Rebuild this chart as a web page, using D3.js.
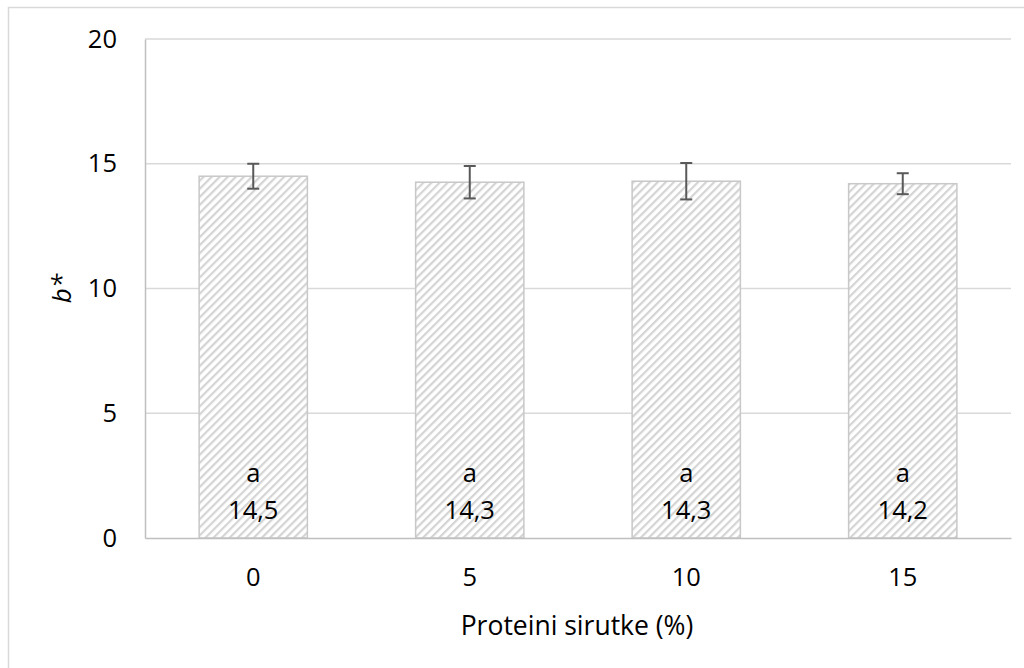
<!DOCTYPE html>
<html>
<head>
<meta charset="utf-8">
<script src="https://cdn.jsdelivr.net/npm/d3@7"></script>
<style>
  body { margin: 0; background: #fff; }
  svg { display: block; font-family: "Open Sans", "Noto Sans", sans-serif; }
</style>
</head>
<body>
<svg id="drawing_region"></svg>
<script>
// data
const categories = ["0", "5", "10", "15"];
const values = [14.5, 14.26, 14.3, 14.2];
const errors = [0.5, 0.65, 0.73, 0.42];
const letters = ["a", "a", "a", "a"];
const valueLabels = ["14,5", "14,3", "14,3", "14,2"];
const yTicks = [0, 5, 10, 15, 20];

const width = 1024, height = 668;
const margin = {top: 39, right: 13, bottom: 130, left: 145};

const svg = d3.select("#drawing_region")
    .attr("width", width)
    .attr("height", height);

// chart border (only left/top visible in the original)
svg.append("rect")
    .attr("x", 8.5).attr("y", 7.5)
    .attr("width", 1040).attr("height", 700)
    .attr("fill", "none")
    .attr("stroke", "#d9d9d9")
    .attr("stroke-width", 1.5);

// hatch pattern
const defs = svg.append("defs");
const pat = defs.append("pattern")
    .attr("id", "hatch")
    .attr("patternUnits", "userSpaceOnUse")
    .attr("width", 5.7).attr("height", 5.7)
    .attr("patternTransform", "rotate(45)");
pat.append("rect").attr("width", 5.7).attr("height", 5.7).attr("fill", "#fff");
pat.append("rect").attr("x", 0).attr("width", 2.2).attr("height", 5.7).attr("fill", "#d4d4d4");

const x = d3.scaleBand()
    .domain(categories)
    .range([margin.left, width - margin.right])
    .paddingInner(0.5)
    .paddingOuter(0.25);

const y = d3.scaleLinear()
    .domain([0, 20])
    .range([height - margin.bottom, margin.top]);

// gridlines
svg.append("g")
    .selectAll("line")
    .data(yTicks.filter(d => d > 0))
    .enter()
    .append("line")
    .attr("x1", margin.left).attr("x2", width - margin.right)
    .attr("y1", d => y(d)).attr("y2", d => y(d))
    .attr("stroke", "#d9d9d9")
    .attr("stroke-width", 1.5);

// y axis
const yAxis = svg.append("g")
    .attr("transform", `translate(${margin.left},0)`)
    .call(d3.axisLeft(y).tickValues(yTicks).tickSize(0).tickPadding(28));
yAxis.select(".domain").attr("stroke", "#bfbfbf").attr("stroke-width", 1.5);
yAxis.selectAll("text").attr("font-size", 25.5).attr("fill", "#000")
    .attr("font-family", "Open Sans, sans-serif");

// bars
svg.append("g")
    .selectAll("rect")
    .data(values)
    .enter()
    .append("rect")
    .attr("x", (d, i) => x(categories[i]))
    .attr("y", d => y(d))
    .attr("width", x.bandwidth())
    .attr("height", d => y(0) - y(d))
    .attr("fill", "url(#hatch)")
    .attr("stroke", "#c8c8c8")
    .attr("stroke-width", 1.5);

// x axis
const xAxis = svg.append("g")
    .attr("transform", `translate(0,${y(0)})`)
    .call(d3.axisBottom(x).tickSize(0).tickPadding(30));
xAxis.select(".domain").attr("stroke", "#bfbfbf").attr("stroke-width", 1.5);
xAxis.selectAll("text").attr("font-size", 25.5).attr("fill", "#000")
    .attr("font-family", "Open Sans, sans-serif");

// error bars
const err = svg.append("g")
    .selectAll("g")
    .data(values)
    .enter()
    .append("g")
    .attr("stroke", "#595959")
    .attr("stroke-width", 2);
const cx = i => x(categories[i]) + x.bandwidth() / 2;
err.append("line")
    .attr("x1", (d, i) => cx(i)).attr("x2", (d, i) => cx(i))
    .attr("y1", (d, i) => y(d + errors[i])).attr("y2", (d, i) => y(d - errors[i]));
err.append("line")
    .attr("x1", (d, i) => cx(i) - 6).attr("x2", (d, i) => cx(i) + 6)
    .attr("y1", (d, i) => y(d + errors[i])).attr("y2", (d, i) => y(d + errors[i]));
err.append("line")
    .attr("x1", (d, i) => cx(i) - 6).attr("x2", (d, i) => cx(i) + 6)
    .attr("y1", (d, i) => y(d - errors[i])).attr("y2", (d, i) => y(d - errors[i]));

// labels inside bars
const lab = svg.append("g")
    .attr("text-anchor", "middle")
    .attr("font-size", 25.5)
    .attr("fill", "#000");
lab.selectAll(".letter")
    .data(letters)
    .enter()
    .append("text")
    .attr("class", "letter")
    .attr("x", (d, i) => cx(i))
    .attr("y", y(0) - 56)
    .text(d => d);
lab.selectAll(".val")
    .data(valueLabels)
    .enter()
    .append("text")
    .attr("class", "val")
    .attr("x", (d, i) => cx(i))
    .attr("y", y(0) - 19)
    .text(d => d);

// axis titles
svg.append("text")
    .attr("x", (margin.left + width - margin.right) / 2 - 1)
    .attr("y", 635)
    .attr("text-anchor", "middle")
    .attr("font-size", 26.5)
    .text("Proteini sirutke (%)");

svg.append("text")
    .attr("transform", `translate(71,${y(10)}) rotate(-90)`)
    .attr("text-anchor", "middle")
    .attr("font-size", 26)
    .attr("font-style", "italic")
    .text("b*");
</script>
</body>
</html>
